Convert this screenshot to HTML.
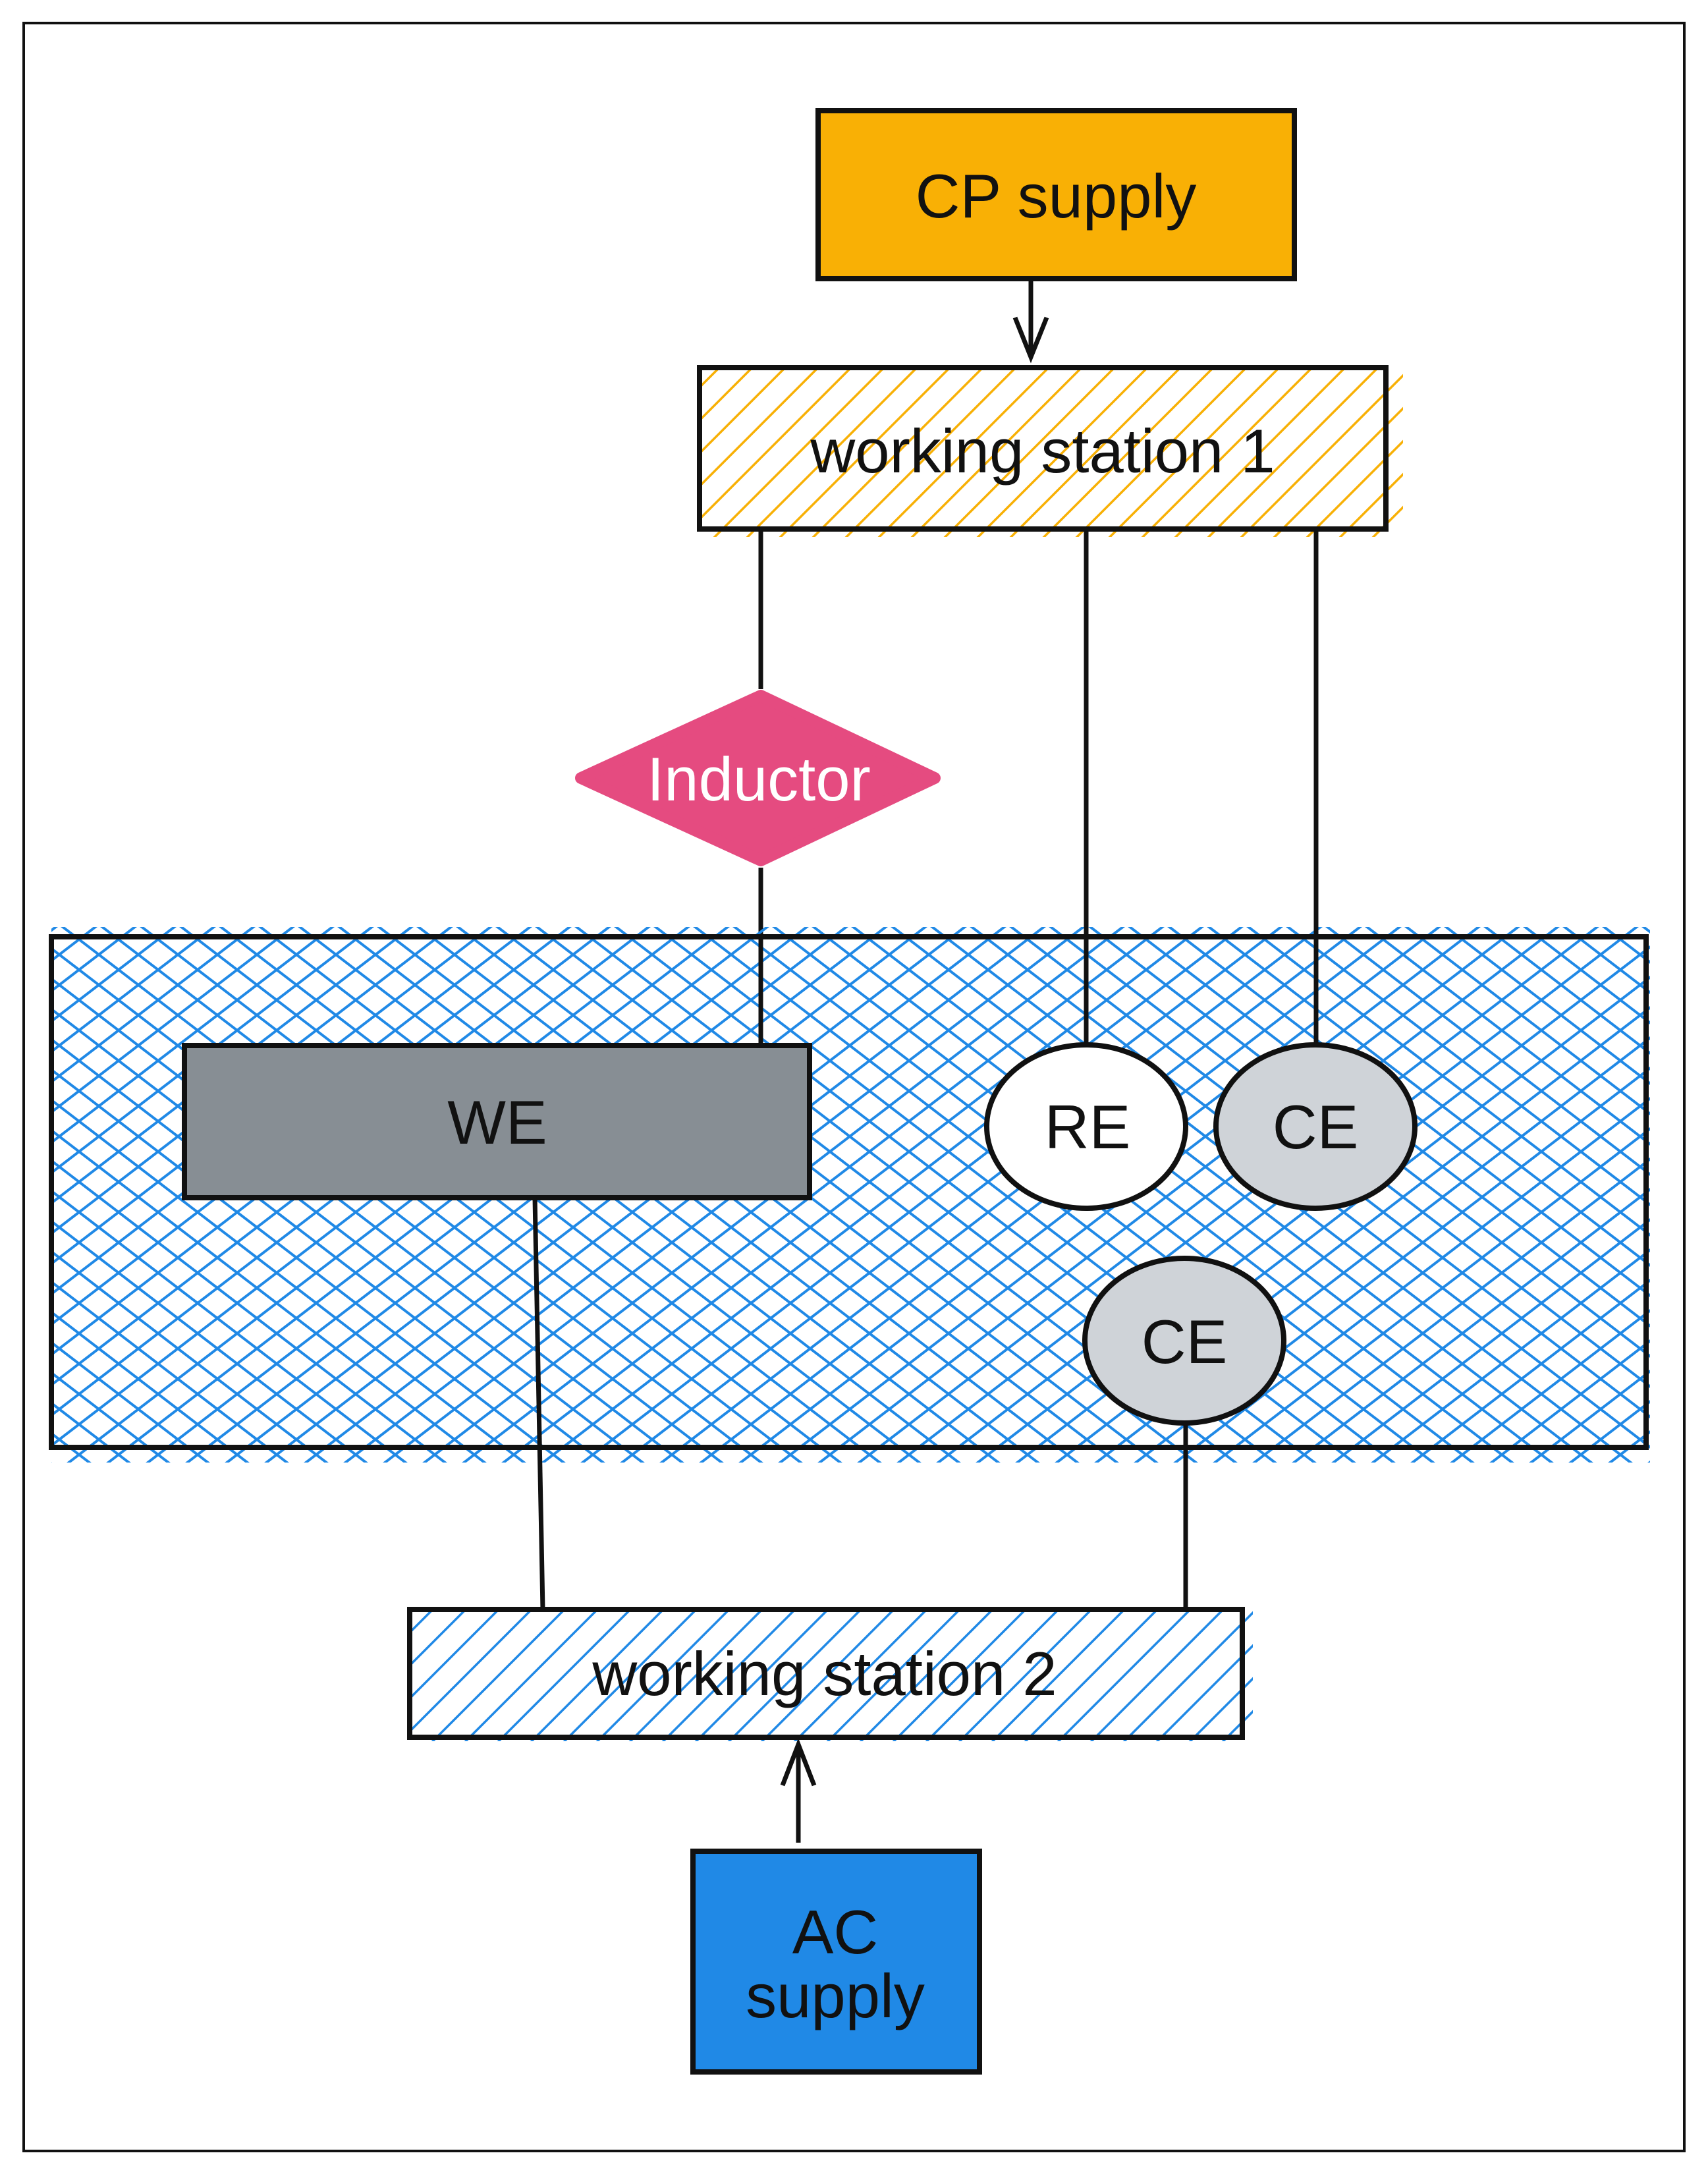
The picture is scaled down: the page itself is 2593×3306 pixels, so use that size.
<!DOCTYPE html>
<html><head><meta charset="utf-8"><style>
html,body{margin:0;padding:0;background:#fff}
svg{display:block}
text{font-family:"Liberation Sans",sans-serif}
</style></head><body>
<svg width="2593" height="3306" viewBox="0 0 2593 3306" xmlns="http://www.w3.org/2000/svg">
<defs>
<pattern id="orng" patternUnits="userSpaceOnUse" width="50" height="50">
<path d="M-5,55 L55,-5 M-55,55 L5,-5 M45,55 L105,-5" stroke="#f8b005" stroke-width="3.5"/>
</pattern>
<pattern id="blu" patternUnits="userSpaceOnUse" width="50" height="50">
<path d="M-5,55 L55,-5 M-55,55 L5,-5 M45,55 L105,-5" stroke="#2089e6" stroke-width="3.5"/>
</pattern>
<pattern id="cross" patternUnits="userSpaceOnUse" width="60" height="46">
<path d="M0,0 L60,46 M0,46 L60,0 M-60,0 L60,92 M0,-46 L120,46" stroke="#2089e6" stroke-width="4" fill="none"/>
</pattern>
</defs>
<rect x="36" y="35" width="2521" height="3230" fill="none" stroke="#111" stroke-width="4"/>

<rect x="1242" y="168" width="723" height="255" fill="#f9b005" stroke="#111" stroke-width="8"/>
<text x="1603" y="330" font-size="94" text-anchor="middle" fill="#111">CP supply</text>
<line x1="1565" y1="423" x2="1565" y2="538" stroke="#111" stroke-width="7"/>
<path d="M1541,482 L1565,542 L1589,482" fill="none" stroke="#111" stroke-width="7"/>

<rect x="1062" y="558" width="1068" height="257" fill="url(#orng)"/>
<rect x="1062" y="558" width="1042" height="245" fill="none" stroke="#111" stroke-width="8"/>
<text x="1583" y="717" font-size="94" text-anchor="middle" fill="#111">working station 1</text>

<line x1="1155" y1="803" x2="1155" y2="1046" stroke="#111" stroke-width="7"/>
<line x1="1155" y1="1317" x2="1155" y2="1587" stroke="#111" stroke-width="7"/>
<line x1="1649" y1="803" x2="1649" y2="1587" stroke="#111" stroke-width="7"/>
<line x1="1998" y1="803" x2="1998" y2="1587" stroke="#111" stroke-width="7"/>

<path d="M1155,1056 L1419,1181 L1155,1306 L882,1181 Z" fill="#e54b80" stroke="#e54b80" stroke-width="18" stroke-linejoin="round"/>
<text x="1152" y="1215" font-size="94" text-anchor="middle" fill="#fff">Inductor</text>

<rect x="78" y="1407" width="2427" height="813" fill="url(#cross)"/>
<rect x="78" y="1422" width="2421" height="775" fill="none" stroke="#111" stroke-width="8"/>
<line x1="1155" y1="1422" x2="1155" y2="1587" stroke="#111" stroke-width="7"/>
<line x1="1649" y1="1400" x2="1649" y2="1587" stroke="#111" stroke-width="7"/>
<line x1="1998" y1="1400" x2="1998" y2="1587" stroke="#111" stroke-width="7"/>

<rect x="280" y="1587" width="949" height="231" fill="#878e94" stroke="#111" stroke-width="8"/>
<text x="755" y="1736" font-size="94" text-anchor="middle" fill="#111">WE</text>

<ellipse cx="1649" cy="1710" rx="151" ry="124" fill="#fff" stroke="#111" stroke-width="8"/>
<text x="1651" y="1743" font-size="94" text-anchor="middle" fill="#111">RE</text>
<ellipse cx="1997" cy="1710" rx="151" ry="124" fill="#cfd3d8" stroke="#111" stroke-width="8"/>
<text x="1997" y="1743" font-size="94" text-anchor="middle" fill="#111">CE</text>
<ellipse cx="1798" cy="2035" rx="151" ry="125" fill="#cfd3d8" stroke="#111" stroke-width="8"/>
<text x="1798" y="2069" font-size="94" text-anchor="middle" fill="#111">CE</text>

<line x1="812" y1="1818" x2="824" y2="2443" stroke="#111" stroke-width="7"/>
<line x1="1800" y1="2160" x2="1800" y2="2443" stroke="#111" stroke-width="7"/>

<rect x="622" y="2443" width="1280" height="200" fill="url(#blu)"/>
<rect x="622" y="2443" width="1264" height="194" fill="none" stroke="#111" stroke-width="8"/>
<text x="1252" y="2573" font-size="94" text-anchor="middle" fill="#111">working station 2</text>

<line x1="1212" y1="2797" x2="1212" y2="2652" stroke="#111" stroke-width="7"/>
<path d="M1188,2710 L1212,2648 L1236,2710" fill="none" stroke="#111" stroke-width="7"/>

<rect x="1052" y="2810" width="435" height="335" fill="#2089e6" stroke="#111" stroke-width="8"/>
<text x="1268" y="2965" font-size="94" text-anchor="middle" fill="#111">AC</text>
<text x="1268" y="3062" font-size="94" text-anchor="middle" fill="#111">supply</text>
</svg>
</body></html>
